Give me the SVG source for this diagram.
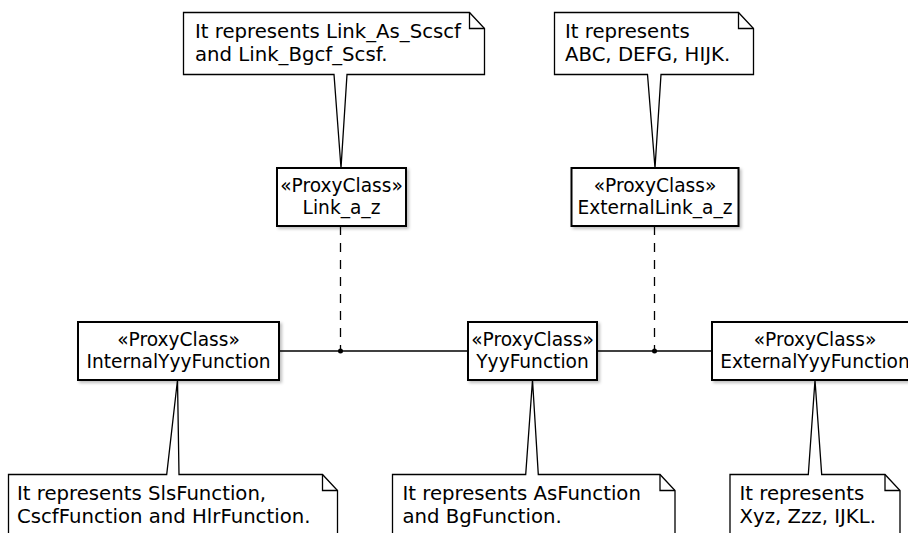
<svg xmlns="http://www.w3.org/2000/svg" width="908" height="533" viewBox="0 0 908 533">
<defs>
<filter id="sh" x="-10%" y="-10%" width="130%" height="140%">
<feDropShadow dx="2" dy="2" stdDeviation="1.5" flood-color="#000" flood-opacity="0.25"/>
</filter>
</defs>
<style>
.box{fill:#fff;stroke:#000;stroke-width:2;filter:url(#sh)}
.note{fill:#fff;stroke:#000;stroke-width:1.3;stroke-linejoin:miter}
.fold{fill:none;stroke:#000;stroke-width:1.3}
.bt{font-family:"DejaVu Sans",sans-serif;font-size:18.6px;fill:#000;text-anchor:middle}
.nt{font-family:"DejaVu Sans",sans-serif;font-size:19.7px;fill:#000}
.ln{stroke:#000;stroke-width:1.3;fill:none}
.dash{stroke:#000;stroke-width:1.3;fill:none;stroke-dasharray:9,8}
</style>
<rect width="908" height="533" fill="#fff"/>
<g id="connectors">
<line class="ln" x1="279" y1="351" x2="468" y2="351"/>
<line class="ln" x1="597" y1="351" x2="712" y2="351"/>
<line class="dash" x1="340.5" y1="226" x2="340.5" y2="351"/>
<line class="dash" x1="654.5" y1="226" x2="654.5" y2="351"/>
<circle cx="340.5" cy="351" r="2.5" fill="#000"/>
<circle cx="654.5" cy="351" r="2.5" fill="#000"/>
</g>
<g id="link_a_z">
<rect class="box" x="277" y="168" width="129" height="58"/>
<text class="bt" x="341.5" y="192">«ProxyClass»</text>
<text class="bt" x="341.5" y="213.5">Link_a_z</text>
</g>
<g id="externallink_a_z">
<rect class="box" x="571.5" y="168" width="167" height="58"/>
<text class="bt" x="655" y="192">«ProxyClass»</text>
<text class="bt" x="655" y="213.5">ExternalLink_a_z</text>
</g>
<g id="internalyyyfunction">
<rect class="box" x="78" y="322" width="201" height="58"/>
<text class="bt" x="178.5" y="346">«ProxyClass»</text>
<text class="bt" x="178.5" y="367.5">InternalYyyFunction</text>
</g>
<g id="yyyfunction">
<rect class="box" x="468" y="322" width="129" height="58"/>
<text class="bt" x="532.5" y="346">«ProxyClass»</text>
<text class="bt" x="532.5" y="367.5">YyyFunction</text>
</g>
<g id="externalyyyfunction">
<rect class="box" x="712" y="322" width="206" height="58"/>
<text class="bt" x="815" y="346">«ProxyClass»</text>
<text class="bt" x="815" y="367.5">ExternalYyyFunction</text>
</g>
<g id="note_link">
<path class="note" d="M183.5,12.5 H469.5 L484.5,28.5 V74.5 H347 L341,168 L334,74.5 H183.5 Z"/>
<path class="fold" d="M469.5,12.5 V28.5 H484.5"/>
<text class="nt" x="195" y="37.5">It represents Link_As_Scscf</text>
<text class="nt" x="195" y="61">and Link_Bgcf_Scsf.</text>
</g>
<g id="note_extlink">
<path class="note" d="M554.5,12.5 H738.5 L753.5,28.5 V74.5 H661 L655,168 L647.5,74.5 H554.5 Z"/>
<path class="fold" d="M738.5,12.5 V28.5 H753.5"/>
<text class="nt" x="565" y="37.5">It represents</text>
<text class="nt" x="565" y="61">ABC, DEFG, HIJK.</text>
</g>
<g id="note_internal">
<path class="note" d="M8.5,474.5 H166.7 L177.5,380 L179,474.5 H322.5 L337.5,490.5 V540 H8.5 Z"/>
<path class="fold" d="M322.5,474.5 V490.5 H337.5"/>
<text class="nt" x="17" y="499.5">It represents SlsFunction,</text>
<text class="nt" x="17" y="523">CscfFunction and HlrFunction.</text>
</g>
<g id="note_yyy">
<path class="note" d="M392.5,474.5 H525.7 L532.5,380 L538.3,474.5 H660 L675,490.5 V540 H392.5 Z"/>
<path class="fold" d="M660,474.5 V490.5 H675"/>
<text class="nt" x="402.5" y="499.5">It represents AsFunction</text>
<text class="nt" x="402.5" y="523">and BgFunction.</text>
</g>
<g id="note_external">
<path class="note" d="M730,474.5 H808.3 L815,380 L821.7,474.5 H885 L900,490.5 V540 H730 Z"/>
<path class="fold" d="M885,474.5 V490.5 H900"/>
<text class="nt" x="739.5" y="499.5">It represents</text>
<text class="nt" x="739.5" y="523">Xyz, Zzz, IJKL.</text>
</g>
</svg>
